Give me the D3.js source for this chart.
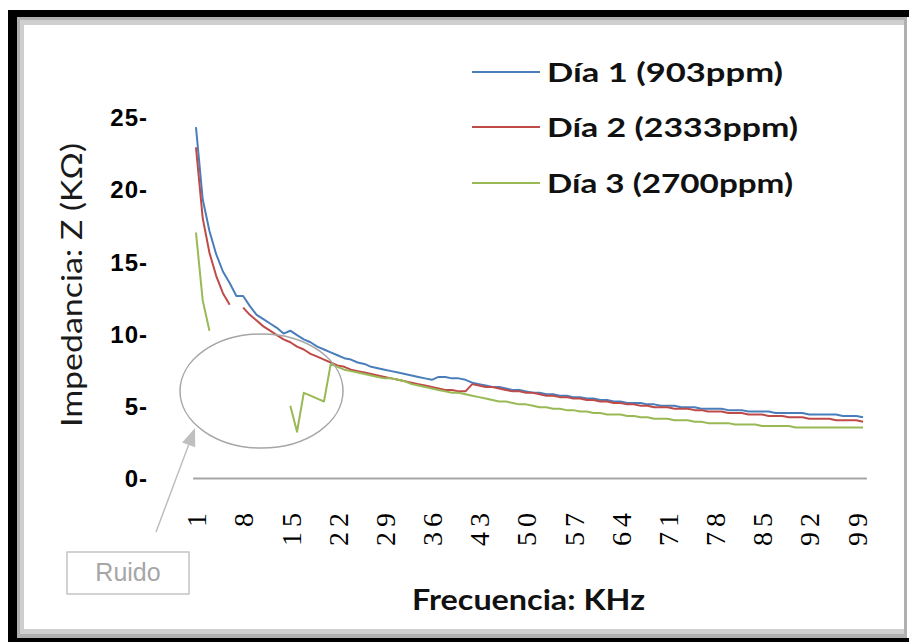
<!DOCTYPE html>
<html>
<head>
<meta charset="utf-8">
<script src="https://cdn.jsdelivr.net/npm/d3@7"></script>
<style>
  html, body { margin: 0; padding: 0; background: #fff; }
  svg { display: block; }
</style>
</head>
<body>
<svg id="chart" width="909" height="642"></svg>
<script>
// ---------- DATA ----------
const frequencies = d3.range(1, 101); // categories 1..100 kHz
const xTickLabels = [1, 8, 15, 22, 29, 36, 43, 50, 57, 64, 71, 78, 85, 92, 99];
const yTickValues = [0, 5, 10, 15, 20, 25];

const seriesNames = ["Día 1 (903ppm)", "Día 2 (2333ppm)", "Día 3 (2700ppm)"];

const dia1 = [24.3,19.3,17.1,15.5,14.3,13.5,12.6,12.6,11.9,11.3,
  11.0,10.7,10.4,10.0,10.2,9.9,9.6,9.4,9.1,8.9,
  8.7,8.5,8.3,8.2,8.0,7.9,7.7,7.6,7.5,7.4,
  7.3,7.2,7.1,7.0,6.9,6.8,7.0,7.0,6.9,6.9,
  6.8,6.6,6.5,6.4,6.3,6.3,6.2,6.1,6.1,6.0,
  5.9,5.9,5.8,5.8,5.7,5.7,5.6,5.6,5.5,5.5,
  5.4,5.4,5.3,5.3,5.2,5.2,5.2,5.1,5.1,5.0,
  5.0,5.0,4.9,4.9,4.9,4.8,4.8,4.8,4.8,4.7,
  4.7,4.7,4.6,4.6,4.6,4.6,4.5,4.5,4.5,4.5,
  4.5,4.4,4.4,4.4,4.4,4.4,4.3,4.3,4.3,4.2];

const dia2 = [22.9,18.0,15.6,14.0,12.8,12.0,null,11.8,11.3,10.9,
  10.5,10.2,9.9,9.6,9.4,9.1,8.9,8.6,8.4,8.2,
  8.0,7.8,7.7,7.5,7.4,7.3,7.2,7.1,7.0,6.9,
  6.8,6.7,6.6,6.5,6.4,6.3,6.2,6.1,6.1,6.0,
  6.0,6.5,6.4,6.3,6.3,6.2,6.1,6.0,6.0,5.9,
  5.9,5.8,5.7,5.7,5.6,5.6,5.5,5.5,5.4,5.4,
  5.3,5.3,5.2,5.2,5.1,5.1,5.0,5.0,4.9,4.9,
  4.9,4.8,4.8,4.8,4.7,4.7,4.6,4.6,4.6,4.5,
  4.5,4.5,4.4,4.4,4.4,4.3,4.3,4.3,4.2,4.2,
  4.2,4.1,4.1,4.1,4.1,4.0,4.0,4.0,4.0,3.9];

const dia3 = [17.0,12.3,10.2,null,null,null,null,null,null,null,
  null,null,null,null,5.0,3.2,5.9,5.7,5.5,5.3,
  7.9,7.7,7.5,7.4,7.3,7.2,7.1,7.0,6.9,6.9,
  6.8,6.7,6.5,6.4,6.3,6.2,6.1,6.0,5.9,5.9,
  5.8,5.7,5.6,5.5,5.4,5.3,5.3,5.2,5.1,5.1,
  5.0,4.9,4.9,4.8,4.8,4.7,4.7,4.6,4.6,4.5,
  4.5,4.4,4.4,4.4,4.3,4.3,4.2,4.2,4.1,4.1,
  4.1,4.0,4.0,4.0,3.9,3.9,3.8,3.8,3.8,3.8,
  3.7,3.7,3.7,3.7,3.6,3.6,3.6,3.6,3.6,3.5,
  3.5,3.5,3.5,3.5,3.5,3.5,3.5,3.5,3.5,3.5];

const seriesColors = ["#4a7ebb", "#be4b48", "#98b954"];

// ---------- DRAW ----------
const svg = d3.select("#chart");

// frame
svg.append("rect").attr("x", 8).attr("y", 10).attr("width", 910).attr("height", 640).attr("fill", "#000");
svg.append("rect").attr("x", 17).attr("y", 17).attr("width", 890).attr("height", 621).attr("fill", "#b0b0b0");
svg.append("rect").attr("x", 20).attr("y", 20).attr("width", 884).attr("height", 614).attr("fill", "#cfcfcf");
svg.append("rect").attr("x", 24).attr("y", 25).attr("width", 880).attr("height", 604).attr("fill", "#fff");
svg.append("rect").attr("x", 907).attr("y", 17).attr("width", 3).attr("height", 621).attr("fill", "#fff");

const x = d3.scaleLinear().domain([0.5, 100.5]).range([192.6, 866.4]);
const y = d3.scaleLinear().domain([0, 25]).range([478, 117]);

// x axis
const xAxis = d3.axisBottom(x).tickValues(xTickLabels).tickSize(0).tickSizeOuter(0).tickFormat(d => d);
const gx = svg.append("g").attr("transform", "translate(0,478)").call(xAxis);
gx.select(".domain").attr("stroke", "#a6a6a6").attr("stroke-width", 2);
gx.selectAll("text")
  .attr("transform", "rotate(-90)")
  .attr("x", -30)
  .attr("y", 0)
  .attr("dy", "0.35em")
  .attr("text-anchor", "end")
  .attr("fill", "#000")
  .style("font-family", "'Liberation Serif', 'DejaVu Serif', serif")
  .style("font-size", "28px")
  .style("letter-spacing", "5px");

// y axis
const yAxis = d3.axisLeft(y).tickValues(yTickValues).tickSize(0).tickPadding(0).tickFormat(d => d + "-");
const gy = svg.append("g").attr("transform", "translate(148,0)").call(yAxis);
gy.select(".domain").remove();
gy.selectAll("text")
  .attr("dy", "0.36em")
  .attr("fill", "#000")
  .style("font-family", "'Liberation Sans', Arial, sans-serif")
  .style("font-weight", "bold")
  .style("font-size", "24px")
  .style("letter-spacing", "1px");

// lines
const line = d3.line()
  .defined(d => d.v !== null)
  .x(d => x(d.f))
  .y(d => y(d.v));

[dia1, dia2, dia3].forEach((arr, i) => {
  const pts = frequencies.map((f, j) => ({ f: f, v: arr[j] }));
  svg.append("path")
    .datum(pts)
    .attr("fill", "none")
    .attr("stroke", seriesColors[i])
    .attr("stroke-width", 2)
    .attr("stroke-linejoin", "round")
    .attr("d", line);
});

// legend
const legendRows = [72, 127, 183];
seriesNames.forEach((name, i) => {
  svg.append("line")
    .attr("x1", 472).attr("x2", 540)
    .attr("y1", legendRows[i]).attr("y2", legendRows[i])
    .attr("stroke", seriesColors[i]).attr("stroke-width", 2);
  svg.append("text")
    .attr("x", 547).attr("y", legendRows[i] + 10)
    .attr("textLength", [236, 251, 246][i])
    .attr("lengthAdjust", "spacingAndGlyphs")
    .attr("fill", "#111")
    .style("font-family", "Lato, 'Open Sans', sans-serif")
    .style("font-weight", "bold")
    .style("font-size", "27px")
    .text(name);
});

// axis titles
svg.append("text")
  .attr("transform", "translate(82,285) rotate(-90)")
  .attr("text-anchor", "middle")
  .attr("textLength", 284)
  .attr("lengthAdjust", "spacingAndGlyphs")
  .attr("fill", "#1a1a1a")
  .style("font-family", "Lato, 'Open Sans', sans-serif")
  .style("font-weight", "normal")
  .style("font-size", "28px")
  .text("Impedancia: Z (KΩ)");

svg.append("text")
  .attr("x", 412).attr("y", 610)
  .attr("textLength", 233)
  .attr("lengthAdjust", "spacingAndGlyphs")
  .attr("fill", "#111")
  .style("font-family", "Lato, 'Open Sans', sans-serif")
  .style("font-weight", "bold")
  .style("font-size", "29px")
  .text("Frecuencia: KHz");

// annotation: noise ellipse, arrow, label
svg.append("ellipse")
  .attr("cx", 261.5).attr("cy", 391).attr("rx", 81.5).attr("ry", 57)
  .attr("fill", "none").attr("stroke", "#a6a6a6").attr("stroke-width", 1.5);

const tail = [156, 532], tip = [195, 428];
const ang = Math.atan2(tip[1] - tail[1], tip[0] - tail[0]);
const headLen = 18, headW = 7;
const bx = tip[0] - headLen * Math.cos(ang), by = tip[1] - headLen * Math.sin(ang);
svg.append("line")
  .attr("x1", tail[0]).attr("y1", tail[1]).attr("x2", bx).attr("y2", by)
  .attr("stroke", "#bfbfbf").attr("stroke-width", 1.5);
svg.append("polygon")
  .attr("points", [
    tip,
    [bx + headW * Math.sin(ang), by - headW * Math.cos(ang)],
    [bx - headW * Math.sin(ang), by + headW * Math.cos(ang)]
  ].map(p => p.join(",")).join(" "))
  .attr("fill", "#bfbfbf");

svg.append("rect")
  .attr("x", 67).attr("y", 552).attr("width", 122).attr("height", 42)
  .attr("fill", "#fff").attr("stroke", "#c4c4c4").attr("stroke-width", 1.5);
svg.append("text")
  .attr("x", 128).attr("y", 581)
  .attr("text-anchor", "middle")
  .attr("fill", "#a6a6a6")
  .style("font-family", "'Liberation Sans', Arial, sans-serif")
  .style("font-size", "25px")
  .text("Ruido");
</script>
</body>
</html>
